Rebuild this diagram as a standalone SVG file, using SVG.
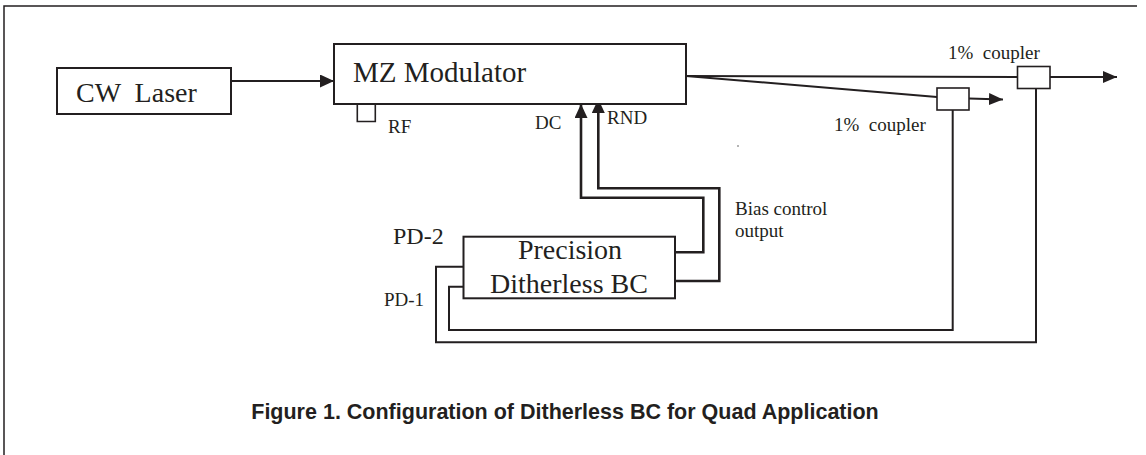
<svg xmlns="http://www.w3.org/2000/svg" width="1146" height="455" viewBox="0 0 1146 455">
  <style>
    .box { fill: #fff; stroke: #231f20; stroke-width: 2; }
    .small { fill: #fff; stroke: #231f20; stroke-width: 1.6; }
    .ln { fill: none; stroke: #231f20; stroke-width: 2; }
    .thick { fill: none; stroke: #231f20; stroke-width: 2.6; }
    .serif { font-family: "Liberation Serif", "Times New Roman", serif; fill: #231f20; white-space: pre; }
    .t28 { font-size: 28px; }
    .t19 { font-size: 19px; }
    .cap { font-family: "Liberation Sans", Arial, sans-serif; font-weight: bold; font-size: 21.5px; fill: #231f20; }
  </style>
  <defs>
    <marker id="arr" markerUnits="userSpaceOnUse" markerWidth="16" markerHeight="14" refX="14" refY="6.5" orient="auto">
      <path d="M0,0 L14,6.5 L0,13 Z" fill="#231f20"/>
    </marker>
    <marker id="arrS" markerUnits="userSpaceOnUse" markerWidth="16" markerHeight="14" refX="14" refY="6" orient="auto">
      <path d="M0,0 L14,6 L0,12 Z" fill="#231f20"/>
    </marker>
  </defs>
  <rect width="1146" height="455" fill="#fff"/>
  <!-- frame -->
  <path d="M4,455 V6 H1137" fill="none" stroke="#231f20" stroke-width="1.5"/>

  <g id="connectors">
    <path class="ln" d="M231,81 H334" marker-end="url(#arr)"/>
    <path class="ln" d="M686,76 L1017.5,77"/>
    <path class="ln" d="M686,76 L937,97"/>
    <path class="ln" d="M1050,77 H1117" marker-end="url(#arrS)"/>
    <path class="ln" d="M969,98.5 L1003,99.5" marker-end="url(#arrS)"/>
    <path class="thick" d="M675,252.3 H703.3 V197.7 H581 V104" marker-end="url(#arr)"/>
    <path class="thick" d="M675,281 H719.3 V188.3 H598.3 V99" marker-end="url(#arr)"/>
    <path class="ln" d="M463.5,266.7 H436 V342.3 H1036 V88.5"/>
    <path class="ln" d="M463.5,286.7 H449 V330 H952.7 V110"/>
  </g>

  <g id="cw-laser">
    <rect class="box" x="57" y="68" width="174" height="46"/>
    <text class="serif t28" x="76" y="101.5">CW  Laser</text>
  </g>

  <g id="mz-modulator">
    <rect class="box" x="334" y="44" width="352" height="60"/>
    <text class="serif" x="353" y="82" font-size="29">MZ Modulator</text>
    <path class="small" d="M357.3,105 V121.5 H375.3 V105"/>
    <text class="serif t19" x="388" y="133">RF</text>
    <text class="serif t19" x="535" y="129">DC</text>
    <text class="serif t19" x="607" y="124">RND</text>
  </g>

  <g id="coupler-1">
    <rect class="small" x="937" y="88" width="32" height="22"/>
    <text class="serif t19" x="834" y="131">1%  coupler</text>
  </g>

  <g id="coupler-2">
    <rect class="small" x="1017.5" y="66.5" width="32.5" height="22"/>
    <text class="serif t19" x="948" y="59">1%  coupler</text>
  </g>

  <g id="bias-controller">
    <rect class="box" x="463.5" y="236.7" width="211.5" height="61.6"/>
    <text class="serif t28" x="570" y="259" text-anchor="middle">Precision</text>
    <text class="serif t28" x="569" y="293" text-anchor="middle">Ditherless BC</text>
    <text class="serif" x="393" y="244" font-size="24">PD-2</text>
    <text class="serif t19" x="384" y="306">PD-1</text>
    <text class="serif t19" x="735" y="215">Bias control</text>
    <text class="serif t19" x="735" y="237">output</text>
  </g>

  <circle cx="738" cy="146" r="0.8" fill="#555"/>

  <text class="cap" x="565" y="419" text-anchor="middle">Figure 1. Configuration of Ditherless BC for Quad Application</text>
</svg>
